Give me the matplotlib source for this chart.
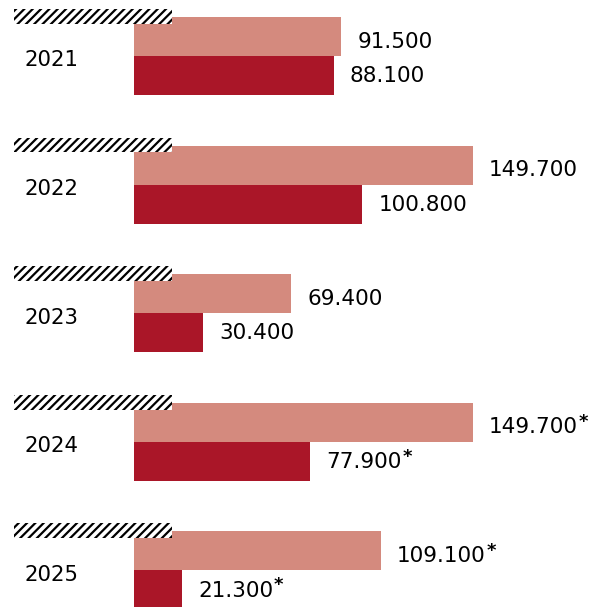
import matplotlib.pyplot as plt
from matplotlib.patches import Rectangle
import numpy as np

plt.rcParams['font.family'] = ['DejaVu Sans']
plt.rcParams['hatch.linewidth'] = 1.6
plt.rcParams['hatch.color'] = 'black'

years = ['2021', '2022', '2023', '2024', '2025']
light_vals = [91.5, 149.7, 69.4, 149.7, 109.1]
dark_vals = [88.1, 100.8, 30.4, 77.9, 21.3]
starred = [False, False, False, True, True]

light_color = '#D48A7E'
dark_color = '#AA1628'

fig = plt.figure(figsize=(5.91, 6.07), dpi=100)
ax = fig.add_axes([0, 0, 1, 1])
ax.set_xlim(-59.16, 201.77)
ax.set_ylim(4.436, -0.284)
ax.axis('off')

h = 0.303
y = np.arange(len(years))
ax.barh(y, light_vals, height=h, color=light_color, zorder=1)
ax.barh(y + h, dark_vals, height=h, color=dark_color, zorder=1)

px = 2.265  # pixels per unit on x

for i, yr in enumerate(years):
    # hatched strip above each group
    ax.add_patch(Rectangle((-53, i - 0.214), 69.8, 0.115, facecolor='white',
                           edgecolor='black', linewidth=0, hatch='////', zorder=3))
    ax.text(-36.5, i + 0.185, yr, fontsize=15.3, ha='center', va='center')

    for val, yy in ((light_vals[i], i + 0.04), (dark_vals[i], i + h + 0.005)):
        lab = f'{val:.3f}'
        t = ax.text(val + 16 / px, yy, lab, fontsize=15.5, ha='left', va='center')
        if starred[i]:
            ax.annotate('*', xy=(1, 1), xycoords=t, xytext=(0.5, 3),
                        textcoords='offset points', fontsize=13,
                        fontweight='bold', ha='left', va='top')

fig.savefig('out.png', dpi=100)
